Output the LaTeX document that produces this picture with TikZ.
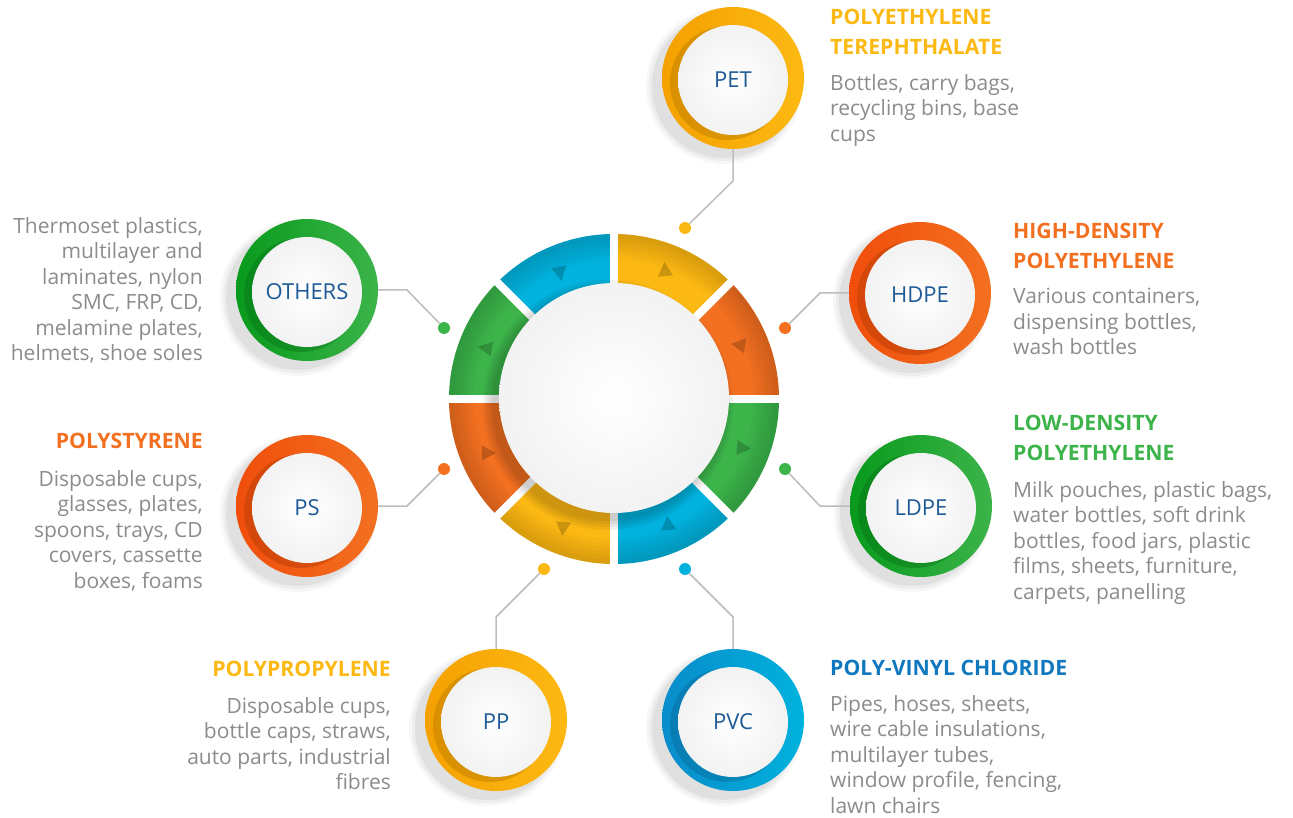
\documentclass[tikz,border=0pt]{standalone}
\usepackage{fontspec}
\setmainfont{Open Sans}
\usetikzlibrary{positioning}
\usetikzlibrary{calc}

\definecolor{plyellow}{HTML}{FDB913}
\definecolor{plyellowdk}{HTML}{F4A100}
\definecolor{plorange}{HTML}{F37021}
\definecolor{plorangedk}{HTML}{F04E0A}
\definecolor{plgreen}{HTML}{3CB44A}
\definecolor{plgreendk}{HTML}{089A1C}
\definecolor{plblue}{HTML}{00B2DD}
\definecolor{plbluedk}{HTML}{0A8CCB}
\definecolor{pvctitle}{HTML}{1078BE}
\definecolor{codeblue}{HTML}{1D5A96}
\definecolor{bodygray}{HTML}{8C8C8C}
\definecolor{wiregray}{HTML}{BDBDBD}

\tikzset{
  disc/.style={circle,minimum size=142pt,inner sep=0pt},
  plate/.style={circle,minimum size=110pt,inner sep=0pt,text=codeblue,
    font=\fontsize{22}{25}\selectfont,shading=radial,inner color=white,outer color=black!5},
  pin/.style={circle,minimum size=12pt,inner sep=0pt},
  wire/.style={draw=wiregray,line width=1.5pt},
  heading/.style={inner sep=0pt,font=\fontsize{21.2}{30}\selectfont\bfseries},
  uses/.style={inner sep=0pt,text=bodygray,font=\fontsize{21}{25.5}\selectfont},
}

\begin{document}
\begin{tikzpicture}[x=1pt,y=-1pt]
    \useasboundingbox (0,0) rectangle (1293,818);
    \fill[white] (0,0) rectangle (1293,818);

    % ring of eight segments
    \begin{scope}[shift={(614,399)}]
    \foreach \a/\c in {-90/plyellow,-45/plorange,0/plgreen,45/plblue,
                       90/plyellow,135/plorange,180/plgreen,225/plblue}
      \fill[\c] (\a:165) arc[start angle=\a,end angle=\a+45,radius=165]
                -- (\a+45:100) arc[start angle=\a+45,end angle=\a,radius=100] -- cycle;
    \foreach \r in {140,144,...,160}
      \fill[black,opacity=.022,even odd rule] (0,0) circle (165) (0,0) circle (\r);
    \foreach \a in {0,45,...,315}
      \draw[white,line width=8pt] (\a:95) -- (\a:170);
    \foreach \r in {116,119,122,125}
      \fill[black,opacity=.05] (-6,6) circle (\r);
    \end{scope}

    % little arrows on the ring
    \foreach \x/\y/\d in {560/273/-80,665/270/95,739/345/172,743/448/-5,
                          668/524/95,563/528/-95,488/453/0,486/348/170}
      \fill[black,opacity=.2,shift={(\x,\y)},rotate=\d] (8,0) -- (-6,7.5) -- (-6,-7.5) -- cycle;

    \node[circle,minimum size=230pt,inner sep=0pt,shading=radial,
          inner color=white,outer color=black!5] (hub) at (614,398) {};

    % satellites
    \foreach \n/\x/\y/\lc/\dc/\t in {pet/733/78/plyellow/plyellowdk/PET,
        hdpe/920/293/plorange/plorangedk/HDPE,
        ldpe/921/506/plgreen/plgreendk/LDPE,
        pvc/733/720/plblue/plbluedk/PVC,
        pp/496/720/plyellow/plyellowdk/PP,
        ps/307/506/plorange/plorangedk/PS,
        others/307/290/plgreen/plgreendk/OTHERS}
    {
      \foreach \r/\o in {78/.03,75/.04,72/.05}
        \fill[black,opacity=\o] (\x-9,\y+8) circle (\r);
      \node[disc,left color=\dc,right color=\lc] (\n-disc) at (\x,\y) {};
      \begin{scope}
        \clip (\x,\y) circle (71);
        \fill[\dc!75!black,opacity=.45] (\x-6,\y+5) circle (57);
      \end{scope}
      \node[plate] (\n) at (\x,\y+2) {\t};
    }

    % pins and wires
    \node[pin,fill=plyellow] (pet-pin) at (685,228) {};
    \node[pin,fill=plorange] (hdpe-pin) at (785,328) {};
    \node[pin,fill=plgreen] (ldpe-pin) at (785,469) {};
    \node[pin,fill=plblue] (pvc-pin) at (685,569) {};
    \node[pin,fill=plyellow] (pp-pin) at (544,569) {};
    \node[pin,fill=plorange] (ps-pin) at (444,469) {};
    \node[pin,fill=plgreen] (others-pin) at (444,328) {};
    \coordinate (pet-bend) at (733,181);
    \coordinate (hdpe-bend) at (820,293);
    \coordinate (ldpe-bend) at (820,506);
    \coordinate (pvc-bend) at (733,617);
    \coordinate (pp-bend) at (496,617);
    \coordinate (ps-bend) at (407,506);
    \coordinate (others-bend) at (407,290);
    \draw[wire] (pet-disc.south) -- (pet-bend) -- (pet-pin);
    \draw[wire] (hdpe-disc.west) -- (hdpe-bend) -- (hdpe-pin);
    \draw[wire] (ldpe-disc.west) -- (ldpe-bend) -- (ldpe-pin);
    \draw[wire] (pvc-disc.north) -- (pvc-bend) -- (pvc-pin);
    \draw[wire] (pp-disc.north) -- (pp-bend) -- (pp-pin);
    \draw[wire] (ps-disc.east) -- (ps-bend) -- (ps-pin);
    \draw[wire] (others-disc.east) -- (others-bend) -- (others-pin);

    % texts
    \node[heading,text=plyellow,align=left,anchor=north west] (pet-head) at (830,9)
      {POLYETHYLENE\\TEREPHTHALATE};
    \node[uses,align=left,anchor=north west] (pet-uses) at (830,74)
      {Bottles, carry bags,\\recycling bins, base\\cups};
    \node[heading,text=plorange,align=left,anchor=north west] (hdpe-head) at (1013,223)
      {HIGH-DENSITY\\POLYETHYLENE};
    \node[uses,align=left,anchor=north west] (hdpe-uses) at (1013,288)
      {Various containers,\\dispensing bottles,\\wash bottles};
    \node[heading,text=plgreen,align=left,anchor=north west] (ldpe-head) at (1013,415)
      {LOW-DENSITY\\POLYETHYLENE};
    \node[uses,align=left,anchor=north west] (ldpe-uses) at (1013,481)
      {Milk pouches, plastic bags,\\water bottles, soft drink\\bottles, food jars, plastic\\films, sheets, furniture,\\carpets, panelling};
    \node[heading,text=pvctitle,align=left,anchor=north west] (pvc-head) at (830,660)
      {POLY-VINYL CHLORIDE};
    \node[uses,align=left,anchor=north west] (pvc-uses) at (830,695)
      {Pipes, hoses, sheets,\\wire cable insulations,\\multilayer tubes,\\window profile, fencing,\\lawn chairs};
    \node[heading,text=plyellow,align=right,anchor=north east] (pp-head) at (391,661)
      {POLYPROPYLENE};
    \node[uses,align=right,anchor=north east] (pp-uses) at (391,697)
      {Disposable cups,\\bottle caps, straws,\\auto parts, industrial\\fibres};
    \node[heading,text=plorange,align=right,anchor=north east] (ps-head) at (203,433)
      {POLYSTYRENE};
    \node[uses,align=right,anchor=north east] (ps-uses) at (203,470)
      {Disposable cups,\\glasses, plates,\\spoons, trays, CD\\covers, cassette\\boxes, foams};
    \node[uses,align=right,anchor=north east] (others-uses) at (203,217)
      {Thermoset plastics,\\multilayer and\\laminates, nylon\\SMC, FRP, CD,\\melamine plates,\\helmets, shoe soles};
\end{tikzpicture}
\end{document}
